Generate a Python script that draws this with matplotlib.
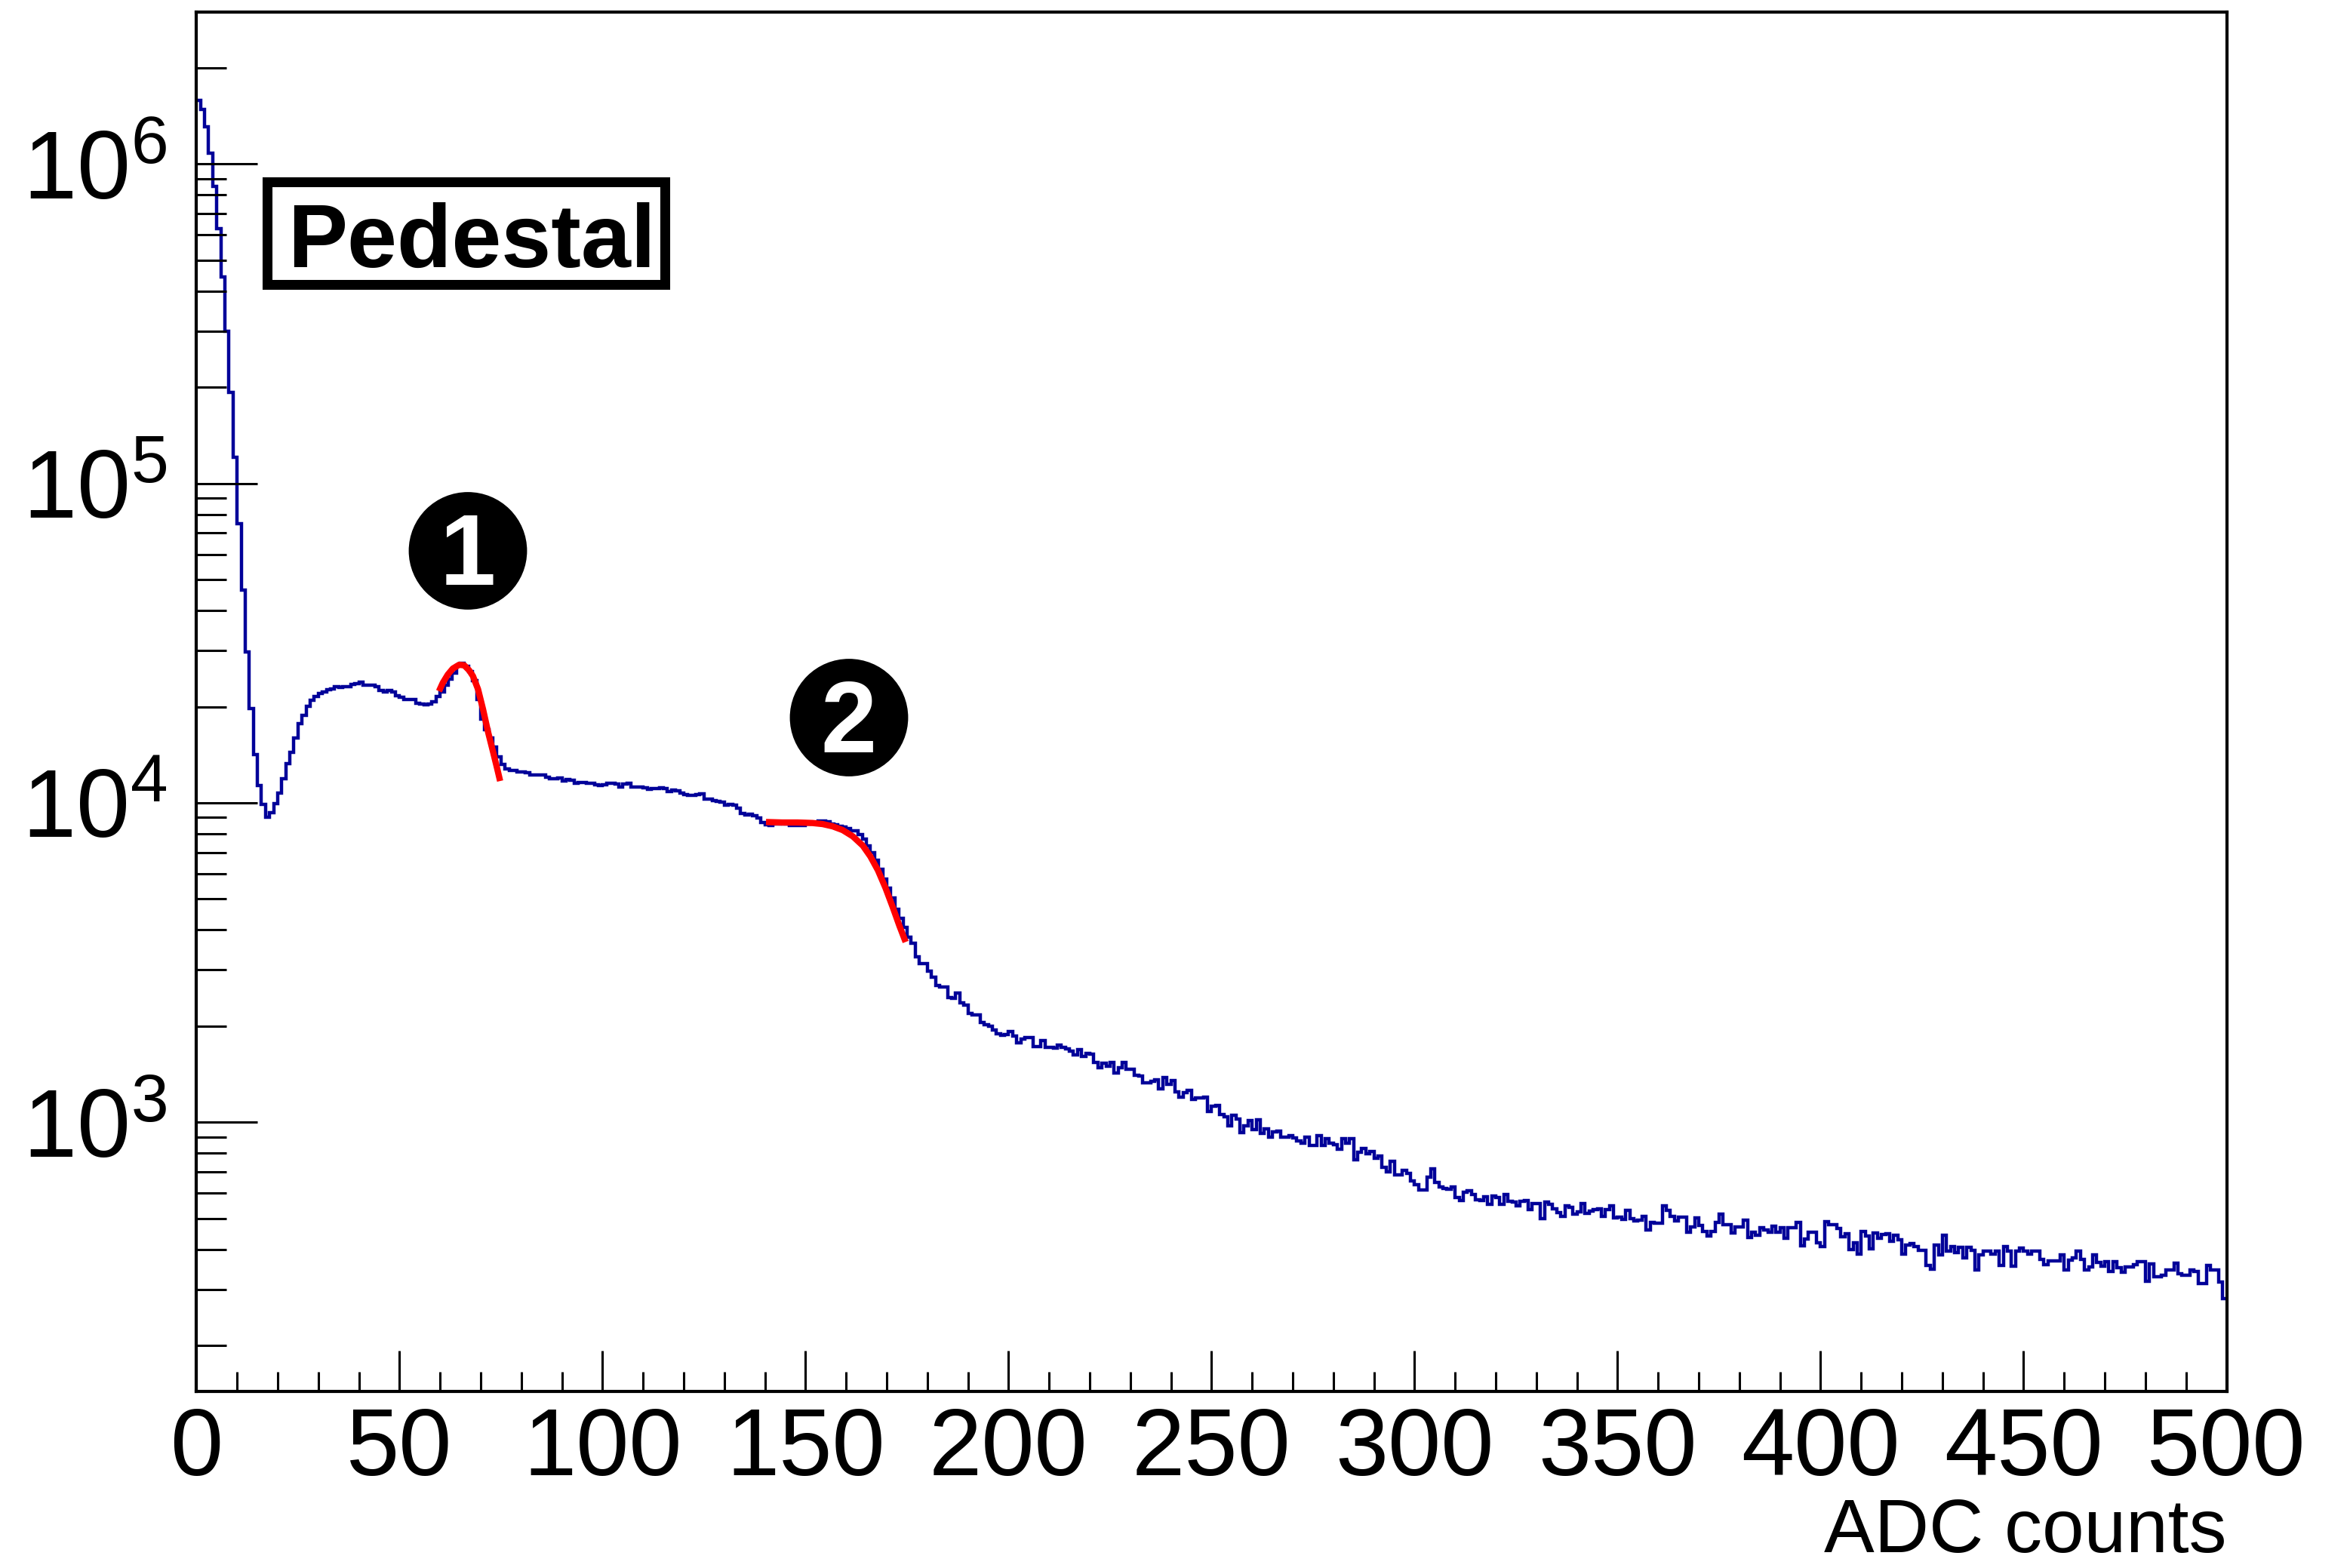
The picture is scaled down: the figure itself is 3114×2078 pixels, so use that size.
import numpy as np
import matplotlib.pyplot as plt
from matplotlib.patches import Ellipse, Rectangle
from matplotlib.ticker import MultipleLocator, LogLocator, NullFormatter

plt.rcParams['font.family'] = 'Liberation Sans'
plt.rcParams['mathtext.fontset'] = 'custom'
plt.rcParams['mathtext.rm'] = 'Liberation Sans'
plt.rcParams['mathtext.it'] = 'Liberation Sans:italic'
plt.rcParams['mathtext.bf'] = 'Liberation Sans:bold'

# bin contents, one ADC count per bin
counts_000 = [1580000, 1480000, 1310000, 1080000, 850000, 628000, 444000, 299000, 193100, 120900,
              74900, 46400, 29670, 19700, 14170, 11310, 9910, 9025, 9331, 9940,
              10750, 11920, 13240, 14420, 15930, 17660, 18750, 20060, 20910, 21480,
              21960, 22200, 22560, 22690, 23100, 23020, 23060, 23100, 23440, 23610,
              23870, 23400, 23350, 23310, 23100, 22480, 22270, 22440, 22200, 21680,
              21400, 21020, 21020, 21090, 20530, 20340, 20230, 20340, 20720, 21480,
              22270, 23310, 24390, 25520, 26950, 27290, 26810, 25750, 24170, 21090,
              18250, 16970, 15930, 14950, 13950, 13170, 12770, 12650, 12630, 12470,
              12470, 12430, 12240, 12200, 12240, 12200, 12030, 11870, 11920, 11980,
              11700, 11810, 11770, 11490, 11600, 11560, 11490, 11490, 11390, 11350]
counts_100 = [11390, 11490, 11490, 11450, 11180, 11430, 11490, 11180, 11230, 11180,
              11140, 11040, 11100, 11100, 11140, 11080, 10850, 10980, 10890, 10750,
              10590, 10530, 10550, 10630, 10670, 10250, 10250, 10180, 10120, 10030,
              9815, 9888, 9815, 9639, 9246, 9162, 9196, 9112, 8964, 8677,
              8521, 8490, 8598, 8598, 8630, 8598, 8490, 8490, 8490, 8475,
              8598, 8630, 8677, 8756, 8756, 8709, 8598, 8521, 8443, 8398,
              8292, 8172, 8172, 7955, 7715, 7343, 6982, 6611, 6203, 5771,
              5415, 5037, 4643, 4357, 4067, 3803, 3635, 3289, 3144, 3144,
              2977, 2846, 2680, 2655, 2646, 2461, 2447, 2538, 2360, 2330,
              2187, 2168, 2168, 2053, 2016, 1998, 1944, 1892, 1875, 1885]
counts_200 = [1926, 1858, 1776, 1825, 1842, 1842, 1728, 1728, 1798, 1713,
              1712, 1703, 1743, 1712, 1697, 1666, 1622, 1690, 1607, 1645,
              1631, 1536, 1481, 1530, 1495, 1536, 1428, 1481, 1536, 1468,
              1462, 1403, 1398, 1328, 1328, 1340, 1357, 1274, 1377, 1316,
              1353, 1246, 1198, 1235, 1258, 1176, 1191, 1191, 1198, 1082,
              1122, 1130, 1059, 1043, 976, 1049, 1025, 929, 976, 1012,
              950, 1017, 924, 953, 900, 933, 936, 896, 896, 908,
              891, 875, 860, 896, 844, 844, 908, 844, 887, 860,
              852, 825, 887, 860, 887, 762, 807, 829, 795, 810,
              771, 785, 724, 700, 753, 683, 683, 708, 692, 655]
counts_300 = [637, 615, 615, 673, 713, 649, 628, 620, 617, 626,
              582, 569, 604, 611, 593, 572, 569, 584, 553, 588,
              582, 553, 595, 567, 564, 548, 567, 570, 534, 556,
              556, 499, 564, 553, 537, 520, 508, 546, 542, 515,
              524, 556, 518, 527, 534, 537, 508, 532, 546, 502,
              505, 496, 530, 499, 490, 493, 508, 460, 486, 484,
              484, 546, 530, 508, 490, 504, 504, 452, 470, 502,
              475, 456, 440, 456, 486, 515, 477, 477, 450, 470,
              470, 495, 436, 452, 444, 468, 460, 453, 473, 453,
              467, 434, 467, 468, 486, 411, 432, 452, 453, 420]
counts_400 = [409, 488, 479, 479, 464, 437, 448, 399, 420, 387,
              456, 440, 402, 450, 434, 445, 448, 424, 442, 428,
              387, 413, 416, 409, 398, 398, 357, 347, 413, 385,
              442, 396, 409, 391, 407, 377, 405, 398, 345, 384,
              394, 396, 387, 394, 357, 409, 394, 354, 394, 404,
              394, 387, 394, 394, 373, 358, 369, 369, 369, 385,
              345, 370, 376, 394, 373, 345, 352, 385, 365, 354,
              367, 341, 367, 351, 339, 352, 352, 358, 367, 367,
              317, 360, 329, 329, 332, 345, 345, 363, 335, 331,
              331, 345, 341, 313, 313, 357, 345, 345, 316, 281]

# points
fit1_x = [59.73, 60.66, 61.90, 63.14, 64.69, 65.93, 67.17, 68.10, 69.34, 70.58, 71.82, 73.06, 73.98, 74.79]
fit1_y = [22360, 23740, 25200, 26320, 27050, 26950, 25980, 24920, 22690, 19620, 16660, 14420, 12930, 11700]
fit2_x = [140.27, 144.30, 148.02, 151.73, 154.21, 156.69, 159.17, 161.65, 164.12, 165.98, 167.84, 169.70,
          171.56, 173.11, 174.66]
fit2_y = [8707, 8677, 8677, 8646, 8582, 8442, 8215, 7853, 7343, 6792, 6148, 5415, 4685, 4126, 3667]

counts = np.array(counts_000 + counts_100 + counts_200 + counts_300 + counts_400)
edges = np.arange(len(counts) + 1)

fig = plt.figure(figsize=(15.57, 10.39), dpi=200)
ax = fig.add_axes([0.0836, 0.1126, 0.8639, 0.8797])

ax.stairs(counts, edges, baseline=None, color='#000099', linewidth=1.6)
ax.plot(fit1_x, fit1_y, color='red', linewidth=3.0, solid_capstyle='butt')
ax.plot(fit2_x, fit2_y, color='red', linewidth=3.0, solid_capstyle='butt')

ax.set_yscale('log')
ax.set_xlim(0, 500)
ax.set_ylim(143.6, 2.99e6)

ax.xaxis.set_major_locator(MultipleLocator(50))
ax.xaxis.set_minor_locator(MultipleLocator(10))
ax.yaxis.set_minor_locator(LogLocator(base=10, subs=np.arange(2, 10), numticks=20))
ax.yaxis.set_minor_formatter(NullFormatter())

ax.tick_params(which='both', direction='in', top=False, right=False, width=1.1)
ax.tick_params(axis='x', which='major', length=19.5, labelsize=45.5, pad=7)
ax.tick_params(axis='x', which='minor', length=9.5)
ax.tick_params(axis='y', which='major', length=29, labelsize=46, pad=14)
ax.tick_params(axis='y', which='minor', length=14.5)
for s in ax.spines.values():
    s.set_linewidth(1.5)

fig.text(0.9475, 0.0, 'ADC counts', fontsize=36, ha='right', va='bottom')

# pedestal label box
fig.add_artist(Rectangle((0.1138, 0.8188), 0.1692, 0.0650, transform=fig.transFigure,
                         facecolor='white', edgecolor='black', linewidth=4.7))
fig.text(0.2007, 0.8297, 'Pedestal', fontsize=42.7, fontweight='bold', ha='center', va='baseline')

# circled markers
for cx, cy, base, num in [(620, 730, 775, '1'), (1125, 951, 997, '2')]:
    fig.add_artist(Ellipse((cx / 3114, 1 - cy / 2078), 154 / 3114, 153 / 2078,
                           transform=fig.transFigure, color='black'))
    fig.text(cx / 3114, 1 - base / 2078, num, color='white', fontsize=48,
             fontweight='bold', ha='center', va='baseline')

fig.savefig('out.png', dpi=200)
